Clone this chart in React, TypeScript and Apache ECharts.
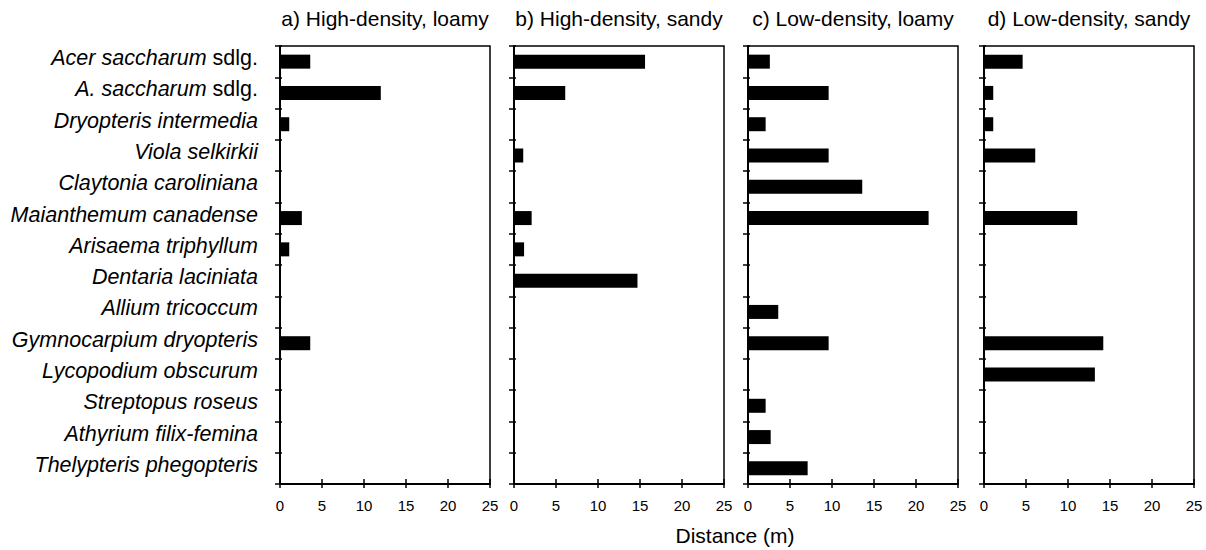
import React, { useEffect, useRef } from "react";
import * as echarts from "echarts";

const species = [
  "Acer saccharum sdlg.",
  "A. saccharum sdlg.",
  "Dryopteris intermedia",
  "Viola selkirkii",
  "Claytonia caroliniana",
  "Maianthemum canadense",
  "Arisaema triphyllum",
  "Dentaria laciniata",
  "Allium tricoccum",
  "Gymnocarpium dryopteris",
  "Lycopodium obscurum",
  "Streptopus roseus",
  "Athyrium filix-femina",
  "Thelypteris phegopteris",
];

const panelTitles = [
  "a) High-density, loamy",
  "b) High-density, sandy",
  "c) Low-density, loamy",
  "d) Low-density, sandy",
];

const highLoamy = [3.6, 12.0, 1.1, 0, 0, 2.6, 1.1, 0, 0, 3.6, 0, 0, 0, 0];
const highSandy = [15.6, 6.1, 0, 1.1, 0, 2.1, 1.2, 14.7, 0, 0, 0, 0, 0, 0];
const lowLoamy = [2.6, 9.6, 2.1, 9.6, 13.6, 21.5, 0, 0, 3.6, 9.6, 0, 2.1, 2.7, 7.1];
const lowSandy = [4.6, 1.1, 1.1, 6.1, 0, 11.1, 0, 0, 0, 14.2, 13.2, 0, 0, 0];

const xTicks = [0, 5, 10, 15, 20, 25];
const xAxisName = "Distance (m)";

const panelValues = [highLoamy, highSandy, lowLoamy, lowSandy];

const FONT = "Liberation Sans";
const gridLefts = [280, 514, 748, 984];
const gridWidth = 210;
const gridTop = 46;
const gridHeight = 438;

function labelFormatter(name: string) {
  if (name.endsWith(" sdlg.")) {
    return `{i|${name.slice(0, -6)}}{n| sdlg.}`;
  }
  return `{i|${name}}`;
}

export default function App() {
  const ref = useRef<HTMLDivElement>(null);
  useEffect(() => {
    if (!ref.current) return;
    const chart = echarts.init(ref.current, undefined, { renderer: "svg" });
    const grids: any[] = [];
    const xAxes: any[] = [];
    const yAxes: any[] = [];
    const series: any[] = [];
    const graphics: any[] = [];
    panelValues.forEach((vals, i) => {
      grids.push({
        left: gridLefts[i],
        top: gridTop,
        width: gridWidth,
        height: gridHeight,
        show: true,
        borderColor: "#000",
        borderWidth: 1.5,
        backgroundColor: "transparent",
      });
      xAxes.push({
        type: "value",
        gridIndex: i,
        min: xTicks[0],
        max: xTicks[xTicks.length - 1],
        interval: 5,
        position: "bottom",
        splitLine: { show: false },
        axisLine: { show: true, lineStyle: { color: "#000", width: 2 } },
        axisTick: { show: true, length: 4, lineStyle: { color: "#000", width: 1.5 } },
        axisLabel: { color: "#000", fontSize: 15, fontFamily: FONT, margin: 14 },
      });
      xAxes.push({
        type: "value",
        gridIndex: i,
        min: xTicks[0],
        max: xTicks[xTicks.length - 1],
        interval: 5,
        position: "bottom",
        splitLine: { show: false },
        axisLine: { show: false },
        axisTick: { show: true, inside: true, length: 5, lineStyle: { color: "#000", width: 1.5 } },
        axisLabel: { show: false },
      });
      yAxes.push({
        type: "category",
        gridIndex: i,
        data: species,
        inverse: true,
        position: "left",
        axisLine: { show: true, lineStyle: { color: "#000", width: 2 } },
        axisTick: { show: true, length: 5, lineStyle: { color: "#000", width: 1.5 } },
        axisLabel: i === 0
          ? {
              show: true,
              margin: 22,
              padding: [0, 0, 7, 0],
              formatter: labelFormatter,
              rich: {
                i: { fontStyle: "italic", fontSize: 21.5, fontFamily: FONT, color: "#000" },
                n: { fontStyle: "normal", fontSize: 21.5, fontFamily: FONT, color: "#000" },
              },
            }
          : { show: false },
      });
      yAxes.push({
        type: "category",
        gridIndex: i,
        data: species,
        inverse: true,
        position: "left",
        axisLine: { show: false },
        axisTick: { show: true, inside: true, length: 2, lineStyle: { color: "#000", width: 1.5 } },
        axisLabel: { show: false },
      });
      series.push({
        type: "bar",
        xAxisIndex: i * 2,
        yAxisIndex: i * 2,
        data: vals,
        barWidth: 14,
        itemStyle: { color: "#000" },
      });
      graphics.push({
        type: "text",
        x: gridLefts[i] + gridWidth / 2,
        y: 18,
        style: {
          text: panelTitles[i],
          fontSize: 21,
          fontFamily: FONT,
          fill: "#000",
          textAlign: "center",
          textVerticalAlign: "middle",
        },
      });
    });
    graphics.push({
      type: "text",
      x: 735,
      y: 535,
      style: {
        text: xAxisName,
        fontSize: 21,
        fontFamily: FONT,
        fill: "#000",
        textAlign: "center",
        textVerticalAlign: "middle",
      },
    });
    chart.setOption({
      animation: false,
      backgroundColor: "#fff",
      grid: grids,
      xAxis: xAxes,
      yAxis: yAxes,
      series,
      graphic: graphics,
    });
    return () => chart.dispose();
  }, []);
  return (
    <div
      ref={ref}
      style={{ position: "fixed", left: 0, top: 0, width: 1206, height: 550 }}
    />
  );
}
